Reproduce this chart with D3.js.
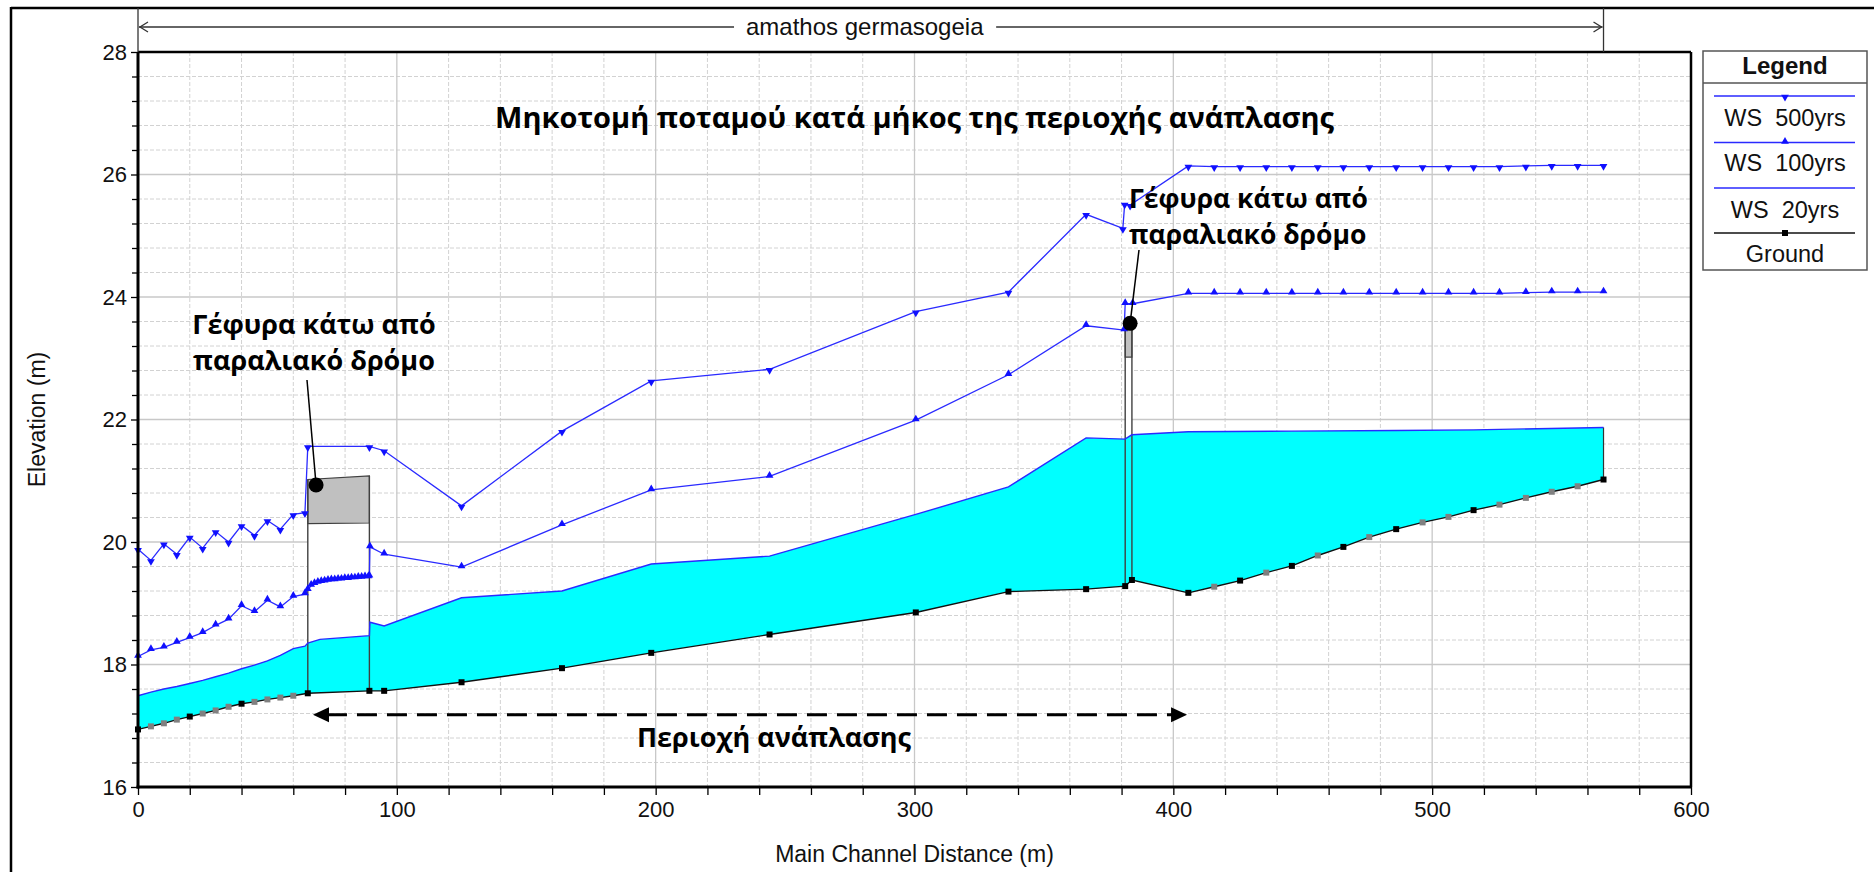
<!DOCTYPE html>
<html>
<head>
<meta charset="utf-8">
<script src="https://cdn.jsdelivr.net/npm/d3@7"></script>
<style>
  html, body { margin: 0; padding: 0; background: #ffffff; }
  svg { display: block; }
  .axis-text { font-family: "Liberation Sans", Arial, sans-serif; fill: #111; }
  .note { font-family: "Open Sans", "Noto Sans", sans-serif; font-weight: 700; fill: #000; }
</style>
</head>
<body>
<svg id="chart" width="1874" height="872"></svg>
<script>
// ---- Profile data: main channel distance (m) and elevation (m) ----

// Ground (main cross sections)
const groundStations = [0, 20, 40, 65.6, 89.4, 95.1, 125, 163.8, 198.3, 244, 300.5, 336.3, 366.3, 381.4, 384, 405.8, 425.8, 445.8, 465.7, 486.1, 516, 566.2];
const groundElev     = [16.94, 17.15, 17.36, 17.53, 17.57, 17.57, 17.71, 17.94, 18.19, 18.49, 18.85, 19.19, 19.23, 19.28, 19.38, 19.17, 19.37, 19.61, 19.92, 20.21, 20.52, 21.02];

// Ground (interpolated cross sections)
const interpStations = [5, 10, 15, 25, 30, 35, 45, 50, 55, 60, 415.8, 435.9, 455.8, 475.7, 496.3, 506.3, 526, 536.2, 546.2, 556.2];
const interpElev     = [16.99, 17.04, 17.10, 17.20, 17.25, 17.31, 17.39, 17.43, 17.46, 17.49, 19.27, 19.50, 19.78, 20.08, 20.32, 20.41, 20.61, 20.72, 20.82, 20.91];

// WS 20yrs
const ws20Stations = [0, 5, 10, 15, 20, 25, 30, 35, 40, 45, 50, 55, 60, 64.5, 65.6, 70.3, 89.4, 89.6, 95.1, 125, 163.8, 198.3, 244, 300.5, 336.3, 366.3, 381.3, 384, 405.8, 445.8, 486.1, 516, 566.2];
const ws20Elev     = [17.49, 17.55, 17.60, 17.64, 17.69, 17.74, 17.80, 17.86, 17.93, 17.99, 18.06, 18.15, 18.26, 18.30, 18.35, 18.41, 18.47, 18.69, 18.63, 19.09, 19.20, 19.64, 19.77, 20.45, 20.90, 21.70, 21.68, 21.75, 21.80, 21.81, 21.82, 21.83, 21.87];

// WS 100yrs
const ws100Stations = [0, 5, 10, 15, 20, 25, 30, 35, 40, 45, 50, 55, 60, 64.5,
  65.6, 66.9, 68.2, 69.5, 70.8, 72.1, 73.4, 74.7, 76.0, 77.3, 78.6, 79.9, 81.2, 82.5, 83.8, 85.1, 86.4, 87.7, 89.0, 89.4,
  89.6, 95.1, 125, 163.8, 198.3, 244, 300.5, 336.3, 366.3, 381.0, 381.4, 384.3,
  405.8, 415.8, 425.8, 435.9, 445.8, 455.8, 465.7, 475.7, 486.1, 496.3, 506.3, 516, 526, 536.2, 546.2, 556.2, 566.2];
const ws100Elev = [18.13, 18.24, 18.28, 18.36, 18.44, 18.52, 18.64, 18.74, 18.96, 18.86, 19.05, 18.94, 19.11, 19.15,
  19.22, 19.29, 19.32, 19.34, 19.35, 19.36, 19.37, 19.38, 19.38, 19.39, 19.39, 19.40, 19.40, 19.41, 19.41, 19.42, 19.42, 19.43, 19.43, 19.44,
  19.92, 19.80, 19.59, 20.28, 20.85, 21.07, 21.99, 22.73, 23.53, 23.46, 23.89, 23.89,
  24.06, 24.06, 24.06, 24.06, 24.06, 24.06, 24.06, 24.06, 24.06, 24.06, 24.06, 24.06, 24.06, 24.07, 24.08, 24.08, 24.08];

// WS 500yrs
const ws500Stations = [0, 5, 10, 15, 20, 25, 30, 35, 40, 45, 50, 55, 60, 64.5, 65.6, 89.4, 95.1, 125, 163.8, 198.3, 244, 300.5, 336.3, 366.3, 380.5, 381.2, 383.3,
  405.8, 415.8, 425.8, 435.9, 445.8, 455.8, 465.7, 475.7, 486.1, 496.3, 506.3, 516, 526, 536.2, 546.2, 556.2, 566.2];
const ws500Elev = [19.88, 19.70, 19.97, 19.80, 20.08, 19.90, 20.17, 20.00, 20.27, 20.11, 20.35, 20.21, 20.45, 20.48, 21.56, 21.56, 21.49, 20.59, 21.81, 22.63, 22.82, 23.76, 24.08, 25.35, 25.12, 25.52, 25.50,
  26.14, 26.13, 26.13, 26.13, 26.13, 26.13, 26.13, 26.13, 26.13, 26.13, 26.13, 26.13, 26.13, 26.14, 26.15, 26.15, 26.15];

// Bridges: upstream/downstream face stations, high chord and low chord
const bridgeStations = [[65.6, 89.4], [381.4, 384.0]];
const bridgeHigh     = [[21.02, 21.08], [23.50, 23.50]];
const bridgeLow      = [[20.30, 20.31], [23.02, 23.02]];

// Axis ticks and labels
const xTicks = [0, 100, 200, 300, 400, 500, 600];
const yTicks = [16, 18, 20, 22, 24, 26, 28];
const reachName = "amathos germasogeia";
const reachExtent = [0, 566.2];
const legendLabels = ["WS  500yrs", "WS  100yrs", "WS  20yrs", "Ground"];

// Annotations
const titleText = "Μηκοτομή ποταμού κατά μήκος της περιοχής ανάπλασης";
const bridgeNote = ["Γέφυρα κάτω από", "παραλιακό δρόμο"];
const bridgeDots = [[68.8, 20.93], [383.3, 23.57]];
const regionLabel = "Περιοχή ανάπλασης";
const regionExtent = [67.6, 405.3];
const regionLevel = 17.18;

// ---- Drawing ----
const svg = d3.select("#chart");
const x = d3.scaleLinear().domain([0, 600]).range([138, 1691]);
const y = d3.scaleLinear().domain([16, 28]).range([787, 52]);
const zip = (s, v) => s.map((d, i) => [d, v[i]]);
const line = d3.line().x(d => x(d[0])).y(d => y(d[1]));
const BLUE = "#2a2aff";

// Outer frame
svg.append("line").attr("x1", 11).attr("x2", 1874).attr("y1", 8).attr("y2", 8).attr("stroke", "#000").attr("stroke-width", 2.5);
svg.append("line").attr("x1", 11).attr("x2", 11).attr("y1", 7).attr("y2", 872).attr("stroke", "#000").attr("stroke-width", 2.5);

// Grid
const grid = svg.append("g");
const minorX = d3.range(0, 601, 20).filter(v => v % 100 !== 0);
const minorY = d3.range(0, 31).map(i => +(16 + i * 0.4).toFixed(1)).filter(v => v <= 28 && Math.abs(v / 2 - Math.round(v / 2)) > 1e-6);
grid.selectAll(".mx").data(minorX).join("line")
  .attr("x1", d => x(d)).attr("x2", d => x(d)).attr("y1", y(28)).attr("y2", y(16))
  .attr("stroke", "#d2d2d2").attr("stroke-dasharray", "4,2").attr("stroke-width", 1);
grid.selectAll(".my").data(minorY).join("line")
  .attr("x1", x(0)).attr("x2", x(600)).attr("y1", d => y(d)).attr("y2", d => y(d))
  .attr("stroke", "#d2d2d2").attr("stroke-dasharray", "4,2").attr("stroke-width", 1);
grid.selectAll(".MX").data(xTicks).join("line")
  .attr("x1", d => x(d)).attr("x2", d => x(d)).attr("y1", y(28)).attr("y2", y(16))
  .attr("stroke", "#c8c8c8").attr("stroke-width", 1.3);
grid.selectAll(".MY").data(yTicks).join("line")
  .attr("x1", x(0)).attr("x2", x(600)).attr("y1", d => y(d)).attr("y2", d => y(d))
  .attr("stroke", "#c8c8c8").attr("stroke-width", 1.3);

// Ground profile (all sections, sorted)
const groundAll = zip(groundStations, groundElev).concat(zip(interpStations, interpElev)).sort((a, b) => a[0] - b[0]);
const groundAt = s => {
  for (let i = 1; i < groundAll.length; i++) {
    if (groundAll[i][0] >= s) {
      const a = groundAll[i - 1], b = groundAll[i];
      return a[1] + (b[1] - a[1]) * (s - a[0]) / (b[0] - a[0]);
    }
  }
  return groundAll[groundAll.length - 1][1];
};

// Bridge openings (blank below low chord)
bridgeStations.forEach((bs, i) => {
  const poly = [[bs[0], groundAt(bs[0])], [bs[0], bridgeLow[i][0]], [bs[1], bridgeLow[i][1]], [bs[1], groundAt(bs[1])]];
  svg.append("path").attr("d", line(poly) + "Z").attr("fill", "#ffffff");
});

// Water body for WS 20yrs
const ws20 = zip(ws20Stations, ws20Elev);
const waterPoly = ws20.concat(groundAll.slice().reverse());
svg.append("path").attr("d", line(waterPoly) + "Z").attr("fill", "#00ffff");
svg.append("line").attr("x1", x(566.2)).attr("x2", x(566.2)).attr("y1", y(ws20Elev[ws20Elev.length - 1])).attr("y2", y(21.02))
  .attr("stroke", "#333").attr("stroke-width", 1.2);

// Bridge decks and faces
bridgeStations.forEach((bs, i) => {
  const deck = [[bs[0], bridgeLow[i][0]], [bs[0], bridgeHigh[i][0]], [bs[1], bridgeHigh[i][1]], [bs[1], bridgeLow[i][1]]];
  svg.append("path").attr("d", line(deck) + "Z").attr("fill", "#c0c0c0").attr("stroke", "#404040").attr("stroke-width", 1.2);
  bs.forEach((s, j) => {
    svg.append("line").attr("x1", x(s)).attr("x2", x(s)).attr("y1", y(groundAt(s))).attr("y2", y(bridgeHigh[i][j]))
      .attr("stroke", "#404040").attr("stroke-width", 1.4);
  });
});

// Water surface lines
svg.append("path").attr("d", line(ws20)).attr("fill", "none").attr("stroke", BLUE).attr("stroke-width", 1.4);
const ws100 = zip(ws100Stations, ws100Elev);
const ws500 = zip(ws500Stations, ws500Elev);
svg.append("path").attr("d", line(ws100)).attr("fill", "none").attr("stroke", BLUE).attr("stroke-width", 1.3);
svg.append("path").attr("d", line(ws500)).attr("fill", "none").attr("stroke", BLUE).attr("stroke-width", 1.3);

// Ground line
svg.append("path").attr("d", line(groundAll)).attr("fill", "none").attr("stroke", "#111").attr("stroke-width", 1.4);

// Markers
const triUp = d3.symbol(d3.symbolTriangle, 26);
svg.append("g").selectAll("path").data(ws100).join("path")
  .attr("d", triUp).attr("fill", "#1010ff")
  .attr("transform", d => `translate(${x(d[0])},${y(d[1]) - 1})`);
svg.append("g").selectAll("path").data(ws500).join("path")
  .attr("d", triUp).attr("fill", "#1010ff")
  .attr("transform", d => `translate(${x(d[0])},${y(d[1]) + 1}) rotate(180)`);
const sq = d3.symbol(d3.symbolSquare, 36);
svg.append("g").selectAll("path").data(zip(interpStations, interpElev)).join("path")
  .attr("d", sq).attr("fill", "#808080")
  .attr("transform", d => `translate(${x(d[0])},${y(d[1])})`);
svg.append("g").selectAll("path").data(zip(groundStations, groundElev)).join("path")
  .attr("d", sq).attr("fill", "#000")
  .attr("transform", d => `translate(${x(d[0])},${y(d[1])})`);

// Plot border and axes
svg.append("line").attr("x1", x(0)).attr("x2", x(600)).attr("y1", y(28)).attr("y2", y(28)).attr("stroke", "#000").attr("stroke-width", 2.5);
svg.append("line").attr("x1", x(600)).attr("x2", x(600)).attr("y1", y(28)).attr("y2", y(16)).attr("stroke", "#000").attr("stroke-width", 2.5);

const yAxisMinor = d3.axisLeft(y).tickValues(minorY).tickSize(6).tickFormat("");
const yAxis = d3.axisLeft(y).tickValues(yTicks).tickSize(7).tickPadding(4).tickFormat(d3.format("d"));
const xAxisMinor = d3.axisBottom(x).tickValues(minorX).tickSize(8).tickFormat("");
const xAxis = d3.axisBottom(x).tickValues(xTicks).tickSize(8).tickPadding(6).tickFormat(d3.format("d"));

function styleAxis(g) {
  g.select(".domain").remove();
  g.selectAll(".tick line").attr("stroke", "#000").attr("stroke-width", 1.3);
  g.selectAll(".tick text").attr("class", "axis-text").style("font-size", "22px").attr("fill", "#111");
}
svg.append("g").attr("transform", `translate(${x(0)},0)`).call(yAxisMinor).call(styleAxis);
svg.append("g").attr("transform", `translate(${x(0)},0)`).call(yAxis).call(styleAxis);
svg.append("g").attr("transform", `translate(0,${y(16)})`).call(xAxisMinor).call(styleAxis);
svg.append("g").attr("transform", `translate(0,${y(16)})`).call(xAxis).call(styleAxis);

svg.append("line").attr("x1", x(0)).attr("x2", x(0)).attr("y1", y(28)).attr("y2", y(16) + 1.5).attr("stroke", "#000").attr("stroke-width", 3);
svg.append("line").attr("x1", x(0) - 1.5).attr("x2", x(600) + 1).attr("y1", y(16)).attr("y2", y(16)).attr("stroke", "#000").attr("stroke-width", 3);

// Axis titles
svg.append("text").attr("class", "axis-text").attr("x", (x(0) + x(600)) / 2).attr("y", 862)
  .attr("text-anchor", "middle").style("font-size", "23px").text("Main Channel Distance (m)");
svg.append("text").attr("class", "axis-text").attr("transform", `translate(45,${(y(16) + y(28)) / 2}) rotate(-90)`)
  .attr("text-anchor", "middle").style("font-size", "23px").text("Elevation (m)");

// Reach extent marker above the plot
const ry = 27;
const rx0 = x(reachExtent[0]), rx1 = x(reachExtent[1]);
const reach = svg.append("g");
reach.append("line").attr("x1", rx0).attr("x2", rx0).attr("y1", 8).attr("y2", y(28)).attr("stroke", "#333").attr("stroke-width", 1.3);
reach.append("line").attr("x1", rx1).attr("x2", rx1).attr("y1", 8).attr("y2", y(28)).attr("stroke", "#333").attr("stroke-width", 1.3);
reach.append("line").attr("x1", rx0 + 1).attr("x2", rx1 - 1).attr("y1", ry).attr("y2", ry).attr("stroke", "#333").attr("stroke-width", 1.3);
reach.append("path").attr("d", `M${rx0 + 10},${ry - 5}L${rx0 + 2},${ry}L${rx0 + 10},${ry + 5}`).attr("fill", "none").attr("stroke", "#333").attr("stroke-width", 1.3);
reach.append("path").attr("d", `M${rx1 - 10},${ry - 5}L${rx1 - 2},${ry}L${rx1 - 10},${ry + 5}`).attr("fill", "none").attr("stroke", "#333").attr("stroke-width", 1.3);
const reachBg = reach.append("rect").attr("fill", "#fff");
const reachText = reach.append("text").attr("class", "axis-text").attr("x", (rx0 + rx1) / 2 - 6).attr("y", ry + 8)
  .attr("text-anchor", "middle").style("font-size", "24px").text(reachName);
const rb = reachText.node().getBBox();
reachBg.attr("x", rb.x - 12).attr("y", ry - 4).attr("width", rb.width + 24).attr("height", 8);

// Legend
const lg = svg.append("g");
lg.append("rect").attr("x", 1703).attr("y", 51).attr("width", 164).attr("height", 219)
  .attr("fill", "#fff").attr("stroke", "#555").attr("stroke-width", 1.5);
lg.append("line").attr("x1", 1703).attr("x2", 1867).attr("y1", 83).attr("y2", 83).attr("stroke", "#555").attr("stroke-width", 1.5);
lg.append("text").attr("class", "axis-text").attr("x", 1785).attr("y", 74).attr("text-anchor", "middle")
  .style("font-size", "24px").style("font-weight", "700").attr("fill", "#000").text("Legend");
const legLineY = [96, 142.5, 188, 233];
const legTextY = [126, 171, 218, 262];
legendLabels.forEach((lab, i) => {
  lg.append("line").attr("x1", 1714).attr("x2", 1855).attr("y1", legLineY[i]).attr("y2", legLineY[i])
    .attr("stroke", i === 3 ? "#111" : BLUE).attr("stroke-width", 1.4);
  if (i === 0) lg.append("path").attr("d", triUp).attr("fill", "#1010ff").attr("transform", `translate(1785,${legLineY[i] + 1}) rotate(180)`);
  if (i === 1) lg.append("path").attr("d", triUp).attr("fill", "#1010ff").attr("transform", `translate(1785,${legLineY[i] - 1})`);
  if (i === 3) lg.append("path").attr("d", sq).attr("fill", "#000").attr("transform", `translate(1785,${legLineY[i]})`);
  lg.append("text").attr("class", "axis-text").attr("x", 1785).attr("y", legTextY[i]).attr("text-anchor", "middle")
    .style("font-size", "23.5px").style("white-space", "pre").text(lab);
});

// Title
svg.append("text").attr("class", "note").attr("x", (x(0) + x(600)) / 2).attr("y", 128)
  .attr("text-anchor", "middle").style("font-size", "29px").text(titleText);

// Bridge notes with leader lines
const leftNote = svg.append("text").attr("class", "note").attr("text-anchor", "middle").style("font-size", "27px");
leftNote.append("tspan").attr("x", 314).attr("y", 334).text(bridgeNote[0]);
leftNote.append("tspan").attr("x", 314).attr("y", 370).text(bridgeNote[1]);
const rightNote = svg.append("text").attr("class", "note").attr("text-anchor", "start").style("font-size", "26.5px");
rightNote.append("tspan").attr("x", 1129).attr("y", 208).text(bridgeNote[0]);
rightNote.append("tspan").attr("x", 1129).attr("y", 244).text(bridgeNote[1]);

const leaderEnds = [[307, 380], [1139, 250]];
bridgeDots.forEach((d, i) => {
  svg.append("line").attr("x1", x(d[0])).attr("y1", y(d[1])).attr("x2", leaderEnds[i][0]).attr("y2", leaderEnds[i][1])
    .attr("stroke", "#000").attr("stroke-width", 1.5);
  svg.append("circle").attr("cx", x(d[0])).attr("cy", y(d[1])).attr("r", 7.5).attr("fill", "#000");
});

// Redevelopment area arrow
const ax0 = x(regionExtent[0]), ax1 = x(regionExtent[1]), ay = y(regionLevel);
svg.append("line").attr("x1", ax0 + 14).attr("x2", ax1 - 14).attr("y1", ay).attr("y2", ay)
  .attr("stroke", "#000").attr("stroke-width", 3.2).attr("stroke-dasharray", "20,10");
svg.append("path").attr("d", `M${ax0},${ay}L${ax0 + 16},${ay - 7.5}L${ax0 + 16},${ay + 7.5}Z`).attr("fill", "#000");
svg.append("path").attr("d", `M${ax1},${ay}L${ax1 - 16},${ay - 7.5}L${ax1 - 16},${ay + 7.5}Z`).attr("fill", "#000");
svg.append("text").attr("class", "note").attr("x", 774).attr("y", 747)
  .attr("text-anchor", "middle").style("font-size", "27px").text(regionLabel);
</script>
</body>
</html>
